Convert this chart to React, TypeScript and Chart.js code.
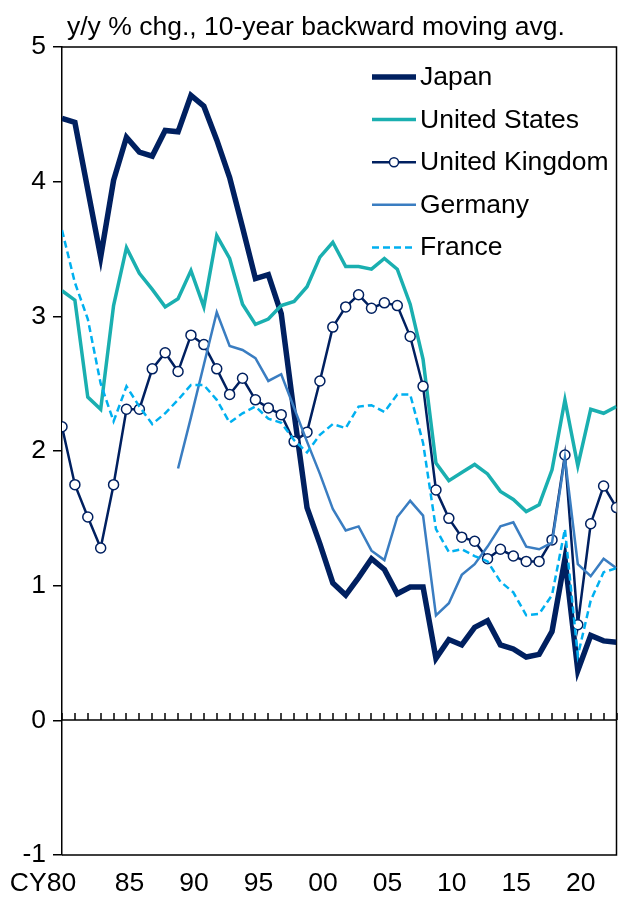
import React, { useEffect, useRef } from "react";
import { Chart, registerables } from "chart.js";

Chart.register(...registerables);

const years = [
  1980, 1981, 1982, 1983, 1984, 1985, 1986, 1987, 1988, 1989,
  1990, 1991, 1992, 1993, 1994, 1995, 1996, 1997, 1998, 1999,
  2000, 2001, 2002, 2003, 2004, 2005, 2006, 2007, 2008, 2009,
  2010, 2011, 2012, 2013, 2014, 2015, 2016, 2017, 2018, 2019,
  2020, 2021, 2022, 2023,
];

const japan = [
  4.47, 4.44, 3.94, 3.44, 4.01, 4.33, 4.22, 4.19, 4.38, 4.37,
  4.64, 4.56, 4.31, 4.03, 3.66, 3.28, 3.31, 3.02, 2.28, 1.58,
  1.31, 1.02, 0.93, 1.06, 1.20, 1.12, 0.94, 0.99, 0.99, 0.46,
  0.60, 0.56, 0.69, 0.74, 0.56, 0.53, 0.47, 0.49, 0.66, 1.20,
  0.37, 0.63, 0.59, 0.58,
];

const unitedStates = [
  3.19, 3.12, 2.40, 2.31, 3.08, 3.51, 3.32, 3.20, 3.07, 3.13,
  3.34, 3.07, 3.60, 3.43, 3.09, 2.94, 2.98, 3.08, 3.11, 3.22,
  3.44, 3.55, 3.37, 3.37, 3.35, 3.43, 3.35, 3.09, 2.68, 1.91,
  1.78, 1.84, 1.90, 1.83, 1.70, 1.64, 1.55, 1.60, 1.86, 2.38,
  1.89, 2.31, 2.28, 2.33,
];

const unitedKingdom = [
  2.18, 1.75, 1.51, 1.28, 1.75, 2.31, 2.31, 2.61, 2.73, 2.59,
  2.86, 2.79, 2.61, 2.42, 2.54, 2.38, 2.32, 2.27, 2.07, 2.14,
  2.52, 2.92, 3.07, 3.16, 3.06, 3.10, 3.08, 2.85, 2.48, 1.71,
  1.50, 1.36, 1.33, 1.20, 1.27, 1.22, 1.18, 1.18, 1.34, 1.97,
  0.71, 1.46, 1.74, 1.58,
];

const germany = [
  null, null, null, null, null, null, null, null, null, 1.87,
  2.25, 2.64, 3.03, 2.78, 2.75, 2.69, 2.52, 2.57, 2.32, 2.07,
  1.83, 1.57, 1.41, 1.44, 1.26, 1.19, 1.51, 1.63, 1.52, 0.78,
  0.87, 1.08, 1.16, 1.29, 1.44, 1.47, 1.29, 1.27, 1.32, 1.95,
  1.16, 1.07, 1.20, 1.13,
];

const france = [
  3.64, 3.25, 2.98, 2.50, 2.22, 2.48, 2.33, 2.20, 2.28, 2.38,
  2.49, 2.49, 2.38, 2.21, 2.28, 2.33, 2.24, 2.21, 2.08, 1.99,
  2.12, 2.20, 2.17, 2.33, 2.34, 2.29, 2.42, 2.42, 2.06, 1.42,
  1.25, 1.27, 1.22, 1.18, 1.03, 0.95, 0.78, 0.79, 0.93, 1.42,
  0.48, 0.89, 1.10, 1.13,
];

const xLabelYears = [1980, 1985, 1990, 1995, 2000, 2005, 2010, 2015, 2020];
const xLabelTexts = ["CY80", "85", "90", "95", "00", "05", "10", "15", "20"];
const titleText = "y/y % chg., 10-year backward moving avg.";

const FONT = "'Liberation Sans', Arial, sans-serif";
const FONT_SIZE = 26.5;
const NAVY = "#002060";
const TEAL = "#1AAFB0";
const STEEL = "#3A7DC1";
const LIGHT = "#00B0F0";

const CANVAS_W = 623;
const CANVAS_H = 897;

const toPts = (arr: (number | null)[]) => years.map((yr, i) => ({ x: yr, y: arr[i] }));

const decorPlugin = {
  id: "decor",
  beforeDatasetsDraw(chart: any) {
    const { ctx, chartArea: a, scales } = chart;
    const xs = scales.x;
    const ys = scales.y;
    ctx.save();
    ctx.strokeStyle = "#000";
    ctx.lineWidth = 1.5;
    ctx.beginPath();
    ctx.moveTo(a.left, a.top);
    ctx.lineTo(a.right, a.top);
    ctx.lineTo(a.right, a.bottom);
    ctx.lineTo(a.left, a.bottom);
    ctx.stroke();
    const y0 = Math.round(ys.getPixelForValue(0));
    ctx.beginPath();
    ctx.moveTo(a.left, y0);
    ctx.lineTo(a.right, y0);
    ctx.stroke();
    ctx.beginPath();
    for (const yr of years) {
      const px = Math.round(xs.getPixelForValue(yr));
      ctx.moveTo(px, y0);
      ctx.lineTo(px, y0 - 7);
    }
    ctx.stroke();
    ctx.restore();
  },
  afterDraw(chart: any) {
    const { ctx, chartArea: a, scales } = chart;
    const xs = scales.x;
    ctx.save();
    ctx.fillStyle = "#000";
    ctx.font = `${FONT_SIZE}px ${FONT}`;
    ctx.textAlign = "left";
    ctx.textBaseline = "alphabetic";
    ctx.fillText(titleText, 67, 35);
    ctx.textAlign = "center";
    xLabelYears.forEach((yr, i) => {
      const px = xs.getPixelForValue(yr);
      const off = i === 0 ? -19 : 3;
      ctx.fillText(xLabelTexts[i], px + off, a.bottom + 36);
    });
    const ds = chart.data.datasets;
    ds.forEach((d: any, i: number) => {
      const ly = 77 + i * 42.6;
      ctx.save();
      ctx.strokeStyle = d.borderColor;
      ctx.lineWidth = d.borderWidth;
      ctx.setLineDash(d.borderDash || []);
      ctx.beginPath();
      ctx.moveTo(372, ly);
      ctx.lineTo(416, ly);
      ctx.stroke();
      if (d.pointRadius > 0) {
        ctx.setLineDash([]);
        ctx.beginPath();
        ctx.arc(394, ly, 4.5, 0, Math.PI * 2);
        ctx.fillStyle = "#fff";
        ctx.fill();
        ctx.lineWidth = 1.5;
        ctx.stroke();
      }
      ctx.restore();
      ctx.textAlign = "left";
      ctx.fillText(d.label, 420, ly + 8);
    });
    ctx.restore();
  },
};

export default function App() {
  const ref = useRef<HTMLCanvasElement | null>(null);
  useEffect(() => {
    if (!ref.current) return;
    const chart = new Chart(ref.current, {
      type: "line",
      data: {
        datasets: [
          { label: "Japan", data: toPts(japan), borderColor: NAVY, borderWidth: 5.5, pointRadius: 0, order: 5 },
          { label: "United States", data: toPts(unitedStates), borderColor: TEAL, borderWidth: 3.5, pointRadius: 0, order: 4 },
          {
            label: "United Kingdom",
            data: toPts(unitedKingdom),
            borderColor: NAVY,
            borderWidth: 2.5,
            pointRadius: 5,
            pointBackgroundColor: "#fff",
            pointBorderColor: NAVY,
            pointBorderWidth: 1.5,
            order: 3,
          },
          { label: "Germany", data: toPts(germany), borderColor: STEEL, borderWidth: 2.5, pointRadius: 0, spanGaps: false, order: 2 },
          { label: "France", data: toPts(france), borderColor: LIGHT, borderWidth: 2.5, borderDash: [7, 4], pointRadius: 0, order: 1 },
        ] as any,
      },
      options: {
        responsive: false,
        animation: false,
        devicePixelRatio: 1,
        layout: { padding: { top: 47, right: 0, bottom: 42, left: 0 } },
        elements: { line: { tension: 0 } },
        plugins: { legend: { display: false }, tooltip: { enabled: false }, title: { display: false } },
        scales: {
          x: { type: "linear", min: 1980, max: 2023, display: false },
          y: {
            min: -1,
            max: 5,
            ticks: { stepSize: 1, color: "#000", padding: 7, font: { family: FONT, size: FONT_SIZE } },
            grid: { drawOnChartArea: false, drawTicks: true, tickLength: 9, color: "#000", lineWidth: 1.5 },
            border: { display: true, color: "#000", width: 1.5 },
            afterFit: (scale: any) => {
              scale.width = 62;
            },
          },
        },
      } as any,
      plugins: [decorPlugin],
    });
    return () => chart.destroy();
  }, []);
  return (
    <div style={{ position: "absolute", left: 0, top: 0, width: 619, height: 897, overflow: "hidden", background: "#fff" }}>
      <canvas
        ref={ref}
        width={CANVAS_W}
        height={CANVAS_H}
        style={{ width: CANVAS_W, height: CANVAS_H, display: "block" }}
      />
    </div>
  );
}
